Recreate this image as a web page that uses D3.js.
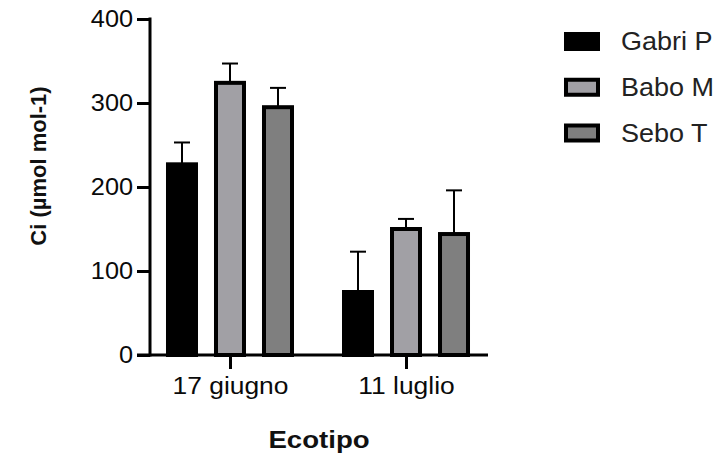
<!DOCTYPE html>
<html>
<head>
<meta charset="utf-8">
<script src="https://cdn.jsdelivr.net/npm/d3@7"></script>
<style>
html,body{margin:0;padding:0;background:#fff;}
svg{display:block;font-family:"Liberation Sans",Arial,Helvetica,sans-serif;}
</style>
</head>
<body>
<svg id="chart" width="720" height="457"></svg>
<script>
const categories = ["17 giugno", "11 luglio"];
const series = ["Gabri P", "Babo M", "Sebo T"];
const seriesColors = ["#000000", "#a1a0a5", "#7f7f7f"];
const values = {
  "Gabri P": [227, 75],
  "Babo M": [324, 150],
  "Sebo T": [295, 144]
};
const errors = {
  "Gabri P": [26, 48],
  "Babo M": [23, 12],
  "Sebo T": [23, 52]
};
const yTicks = [0, 100, 200, 300, 400];
const yTitle = "Ci (µmol mol-1)";
const xTitle = "Ecotipo";

const svg = d3.select("#chart");
const y = d3.scaleLinear().domain([0, 400]).range([355, 19]);
const x0 = d3.scalePoint().domain(categories).range([150, 486]).padding(0.4545);
const x1 = d3.scaleBand().domain(series).range([-72, 72]).paddingInner(0.4167).paddingOuter(0.2083);
const color = d3.scaleOrdinal().domain(series).range(seriesColors);

const data = [];
categories.forEach((c, ci) => series.forEach(s => data.push({cat: c, s, v: values[s][ci], e: errors[s][ci]})));

// error bars
const eg = svg.append("g");
data.forEach(d => {
  const cx = x0(d.cat) + x1(d.s) + x1.bandwidth() / 2;
  eg.append("line").attr("x1", cx).attr("x2", cx).attr("y1", y(d.v)).attr("y2", y(d.v + d.e))
    .attr("stroke", "#000").attr("stroke-width", 2);
  eg.append("line").attr("x1", cx - 8).attr("x2", cx + 8).attr("y1", y(d.v + d.e)).attr("y2", y(d.v + d.e))
    .attr("stroke", "#000").attr("stroke-width", 2);
});

// bars
svg.append("g").selectAll("rect").data(data).join("rect")
  .attr("x", d => x0(d.cat) + x1(d.s))
  .attr("width", x1.bandwidth())
  .attr("y", d => y(d.v))
  .attr("height", d => y(0) - y(d.v))
  .attr("fill", d => color(d.s))
  .attr("stroke", "#000")
  .attr("stroke-width", 4);

// y axis
const sxTick = 1.1;
const yAxis = svg.append("g").attr("transform", "translate(150,0)")
  .call(d3.axisLeft(y).tickValues(yTicks).tickSize(13).tickPadding(4).tickSizeOuter(0));
yAxis.select(".domain").attr("stroke", "#000").attr("stroke-width", 3).attr("d", "M0,17.5V356.5");
yAxis.selectAll(".tick line").attr("stroke", "#000").attr("stroke-width", 3);
yAxis.selectAll(".tick text").attr("font-size", 23).attr("fill", "#0a0a0a")
  .attr("font-family", "Liberation Sans, Arial, sans-serif")
  .attr("x", -17 / sxTick).attr("transform", `scale(${sxTick},1)`);

// x axis
const sxCat = 1.1;
const xAxis = svg.append("g").attr("transform", "translate(0,355)")
  .call(d3.axisBottom(x0).tickSize(14).tickPadding(8).tickSizeOuter(0));
xAxis.select(".domain").attr("stroke", "#000").attr("stroke-width", 3).attr("d", "M137,0H488");
xAxis.selectAll(".tick line").attr("stroke", "#000").attr("stroke-width", 3);
xAxis.selectAll(".tick text").attr("font-size", 24).attr("fill", "#0a0a0a")
  .attr("font-family", "Liberation Sans, Arial, sans-serif")
  .attr("transform", `scale(${sxCat},1)`);

// titles
svg.append("text").attr("transform", "translate(319,448) scale(1.15,1)").attr("text-anchor", "middle")
  .attr("font-size", 24).attr("font-weight", "bold").attr("fill", "#111").text(xTitle);
svg.append("text").attr("transform", "translate(46,166) rotate(-90)").attr("text-anchor", "middle")
  .attr("font-size", 22).attr("font-weight", "bold").attr("fill", "#111").text(yTitle);

// legend
const legY = d3.scalePoint().domain(series).range([41.5, 133]);
const lg = svg.append("g");
series.forEach((s, i) => {
  if (i === 0) {
    lg.append("rect").attr("x", 564).attr("y", legY(s) - 9.5).attr("width", 36).attr("height", 19).attr("fill", "#000");
  } else {
    lg.append("rect").attr("x", 566).attr("y", legY(s) - 7.5).attr("width", 32).attr("height", 15)
      .attr("fill", color(s)).attr("stroke", "#000").attr("stroke-width", 4);
  }
  lg.append("text").attr("transform", `translate(621,${legY(s) + 8.5}) scale(1.08,1)`)
    .attr("font-size", 25).attr("fill", "#222").text(s);
});
</script>
</body>
</html>
